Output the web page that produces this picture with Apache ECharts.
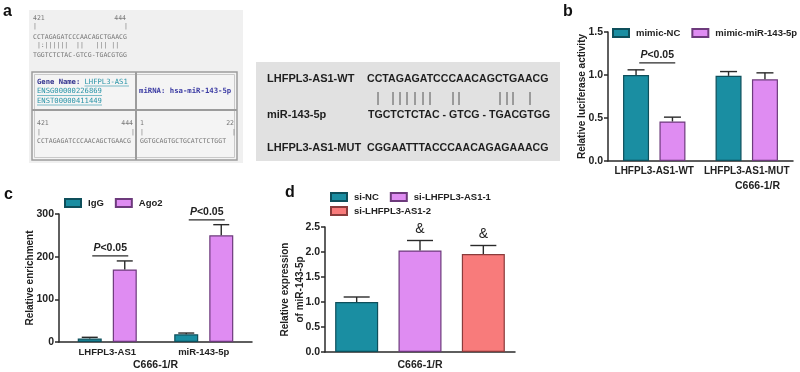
<!DOCTYPE html>
<html>
<head>
<meta charset="utf-8">
<script src="https://cdn.jsdelivr.net/npm/echarts@6/dist/echarts.min.js"></script>
<style>
  html, body { margin: 0; padding: 0; background: #fff; }
  #fig { width: 800px; height: 372px; }
</style>
</head>
<body>
<div id="fig"></div>
<script>
// ---- panel b: luciferase ----
const bCats = ['LHFPL3-AS1-WT', 'LHFPL3-AS1-MUT'];
const bNC = [1.0, 0.99];
const bNCErr = [0.06, 0.05];
const bMiR = [0.46, 0.95];
const bMiRErr = [0.05, 0.075];
const bSig = [[0, 1.14]];

// ---- panel c: RIP ----
const cCats = ['LHFPL3-AS1', 'miR-143-5p'];
const cIgG = [8, 18];
const cIgGErr = [3, 3];
const cAgo2 = [170, 250];
const cAgo2Err = [20, 25];
const cSig = [[0, 202], [1, 286]];

// ---- panel d: qPCR ----
const dCats = ['si-NC', 'si-LHFPL3-AS1-1', 'si-LHFPL3-AS1-2'];
const dVals = [1.0, 2.03, 1.96];
const dErr = [0.10, 0.20, 0.17];
const dMarks = ['', '&', '&'];

// ---- panel a: sequences ----
const wtSeq = 'CCTAGAGATCCCAACAGCTGAACG';
const mirSeq = 'TGCTCTCTAC - GTCG - TGACGTGG';
const mutSeq = 'CGGAATTTACCCAACAGAGAAACG';
const mirFull = 'GGTGCAGTGCTGCATCTCTGGT';
const matchX = [378, 393, 400, 407, 415, 423, 430, 453, 459, 500, 507, 513, 530];

const FONT = '"Liberation Sans", Arial, sans-serif';
const MONO = '"DejaVu Sans Mono", monospace';
const AX = '#2a2a2a';
const TEAL = '#1a8ea2', TEAL_B = '#0e4f5b';
const PINK = '#df8cf2', PINK_B = '#6d3a7c';
const SALMON = '#f87b7b', SALMON_B = '#8a3b3b';

const txt = { fontFamily: FONT, fontWeight: 'bold', fontSize: 10, color: '#222' };

function yAx(grid, max, step, name, gap, dec) {
  return {
    type: 'value', gridIndex: grid, min: 0, max: max, interval: step,
    name: name, nameLocation: 'middle', nameGap: gap, nameMoveOverlap: false,
    nameTextStyle: Object.assign({}, txt, { lineHeight: 15 }),
    axisLine: { show: true, lineStyle: { color: AX, width: 1.5 } },
    axisTick: { show: true, length: 4, lineStyle: { color: AX, width: 1.5 } },
    axisLabel: Object.assign({}, txt, { fontSize: 10.5, margin: 5, formatter: v => v.toFixed(dec) }),
    splitLine: { show: false }
  };
}

function xAx(grid, cats, labelSize, gap, shift) {
  return {
    type: 'category', gridIndex: grid, data: cats,
    name: 'C666-1/R', nameLocation: 'middle', nameGap: gap,
    nameTextStyle: Object.assign({}, txt, { fontSize: 10.5, padding: [0, 0, 0, shift || 0] }),
    axisLine: { lineStyle: { color: AX, width: 1.5 } },
    axisTick: { alignWithLabel: true, length: 4, lineStyle: { color: AX, width: 1.5 } },
    axisLabel: Object.assign({}, txt, { show: labelSize > 0, fontSize: labelSize, interval: 0, margin: 5 })
  };
}

function bar(name, xi, yi, data, fill, border, width, gap, stack) {
  return {
    type: 'bar', name: name, xAxisIndex: xi, yAxisIndex: yi, data: data,
    barWidth: width, barGap: gap, stack: stack,
    itemStyle: { color: fill, borderColor: border, borderWidth: 1.2 },
    z: 2
  };
}

// error bar drawn upward from the bar top, shifted to the bar's slot
function errBars(xi, yi, vals, errs, dx, capW, marks) {
  return {
    type: 'custom', xAxisIndex: xi, yAxisIndex: yi, silent: true, z: 3,
    data: vals.map((v, i) => [i, v, v + errs[i]]),
    renderItem(params, api) {
      const b = api.coord([api.value(0), api.value(1)]);
      const t = api.coord([api.value(0), api.value(2)]);
      const x = b[0] + dx;
      const kids = [
        { type: 'line', shape: { x1: x, y1: b[1], x2: x, y2: t[1] }, style: { stroke: AX, lineWidth: 1.4 } },
        { type: 'line', shape: { x1: x - capW / 2, y1: t[1], x2: x + capW / 2, y2: t[1] }, style: { stroke: AX, lineWidth: 1.4 } }
      ];
      const m = marks ? marks[params.dataIndex] : '';
      if (m) {
        kids.push({ type: 'text', style: { text: m, x: x, y: t[1] - 4, align: 'center', verticalAlign: 'bottom',
          fontFamily: FONT, fontSize: 14, fill: '#222' } });
      }
      return { type: 'group', children: kids };
    }
  };
}

function sigLines(xi, yi, marks) {
  return {
    type: 'custom', xAxisIndex: xi, yAxisIndex: yi, silent: true, z: 4,
    data: marks,
    renderItem(params, api) {
      const p = api.coord([api.value(0), api.value(1)]);
      return { type: 'group', children: [
        { type: 'line', shape: { x1: p[0] - 15, y1: p[1], x2: p[0] + 21, y2: p[1] }, style: { stroke: AX, lineWidth: 1.3 } },
        { type: 'text', style: {
          text: '{i|P}<0.05', x: p[0] + 3, y: p[1] - 2, align: 'center', verticalAlign: 'bottom',
          fontFamily: FONT, fontWeight: 'bold', fontSize: 10.5, fill: '#222',
          rich: { i: { fontFamily: FONT, fontWeight: 'bold', fontStyle: 'italic', fontSize: 10.5, fill: '#222' } }
        } }
      ] };
    }
  };
}

function legendOf(names, left, top) {
  return {
    data: names, left: left, top: top, width: 200, itemWidth: 16, itemHeight: 8, itemGap: 11, padding: 0,
    icon: 'rect', selectedMode: false,
    textStyle: Object.assign({}, txt, { fontSize: 9.5, padding: [0, 0, 0, 2] })
  };
}

// ---- panel a drawing (static picture parts) ----
const g = [];
function T(text, x, y, opt) {
  g.push({ type: 'text', x: x, y: y, silent: true,
    style: Object.assign({ text: text, fill: '#777', font: '6.5px ' + MONO, verticalAlign: 'middle' }, opt || {}) });
}
function L(x1, y1, x2, y2, stroke, w) {
  g.push({ type: 'line', silent: true, shape: { x1, y1, x2, y2 }, style: { stroke: stroke, lineWidth: w || 1 } });
}
function R(x, y, w, h, fill, stroke, lw) {
  g.push({ type: 'rect', silent: true, shape: { x, y, width: w, height: h }, style: { fill: fill, stroke: stroke || null, lineWidth: lw || 0 } });
}

// panel letters
[['a', 3, 12], ['b', 563, 12], ['c', 4, 195], ['d', 285, 193]].forEach(p =>
  g.push({ type: 'text', x: p[1], y: p[2], style: { text: p[0], font: 'bold 16px ' + FONT, fill: '#111', verticalAlign: 'middle' } }));

// database screenshot
R(29, 10, 214, 153, '#f0f0f0');
T('421', 33, 18.5); T('444', 126, 18.5, { align: 'right' });
T('|', 33, 26.5); T('|', 124, 26.5);
T(wtSeq, 33, 37.5);
T(' |:||||||  ||   ||| ||', 33, 45);
T('TGGTCTCTAC-GTCG-TGACGTGG', 33, 55);
R(32, 72, 205, 88, '#f4f4f4', '#9c9c9c', 1.5);
R(34.5, 74.5, 200, 83, null, '#c9c9c9', 1);
L(136, 72, 136, 160, '#9c9c9c', 2);
L(32, 110, 237, 110, '#9c9c9c', 2);
T('Gene Name: ', 37, 82, { font: 'bold 7.2px ' + MONO, fill: '#33338f' });
T('LHFPL3-AS1', 84.5, 82, { font: '7.2px ' + MONO, fill: '#2a95a8' });
T('ENSG00000226869', 37, 91.5, { font: '7.2px ' + MONO, fill: '#2a95a8' });
T('ENST00000411449', 37, 101, { font: '7.2px ' + MONO, fill: '#2a95a8' });
L(84.5, 86, 129, 86, '#2a95a8', 0.6);
L(37, 95.5, 102, 95.5, '#2a95a8', 0.6);
L(37, 105, 102, 105, '#2a95a8', 0.6);
T('miRNA: hsa-miR-143-5p', 139, 91.5, { font: 'bold 7.3px ' + MONO, fill: '#3b3ba3' });
T('421', 37, 123); T('444', 133, 123, { align: 'right' });
T('|', 37, 132); T('|', 131, 132);
T(wtSeq, 37, 141);
T('1', 140, 123); T('22', 234, 123, { align: 'right' });
T('|', 140, 132); T('|', 232, 132);
T(mirFull, 140, 141);

// alignment box
R(256, 62, 304, 99, '#e1e1e1');
const seqStyle = { font: 'bold 10.6px ' + FONT, fill: '#1e1e1e' };
T('LHFPL3-AS1-WT', 267, 79, { font: 'bold 11px ' + FONT, fill: '#1e1e1e' });
T('miR-143-5p', 267, 115, { font: 'bold 11px ' + FONT, fill: '#1e1e1e' });
T('LHFPL3-AS1-MUT', 267, 148, { font: 'bold 11px ' + FONT, fill: '#1e1e1e' });
T(wtSeq, 367, 79, seqStyle);
T(mirSeq, 368, 115, seqStyle);
T(mutSeq, 367, 148, seqStyle);
matchX.forEach(x => L(x, 92, x, 105, '#555', 1));

const chart = echarts.init(document.getElementById('fig'), null, { renderer: 'canvas' });
chart.setOption({
  backgroundColor: '#fff',
  animation: false,
  grid: [
    { left: 608, top: 32, width: 185, height: 129 },
    { left: 59, top: 214, width: 193, height: 128 },
    { left: 325, top: 227, width: 190, height: 127 }
  ],
  xAxis: [
    xAx(0, bCats, 10, 20, 114),
    xAx(1, cCats, 9.5, 18),
    xAx(2, dCats, 0, 8)
  ],
  yAxis: [
    yAx(0, 1.5, 0.5, 'Relative luciferase activity', 18, 1),
    yAx(1, 300, 100, 'Relative enrichment', 21, 0),
    yAx(2, 2.5, 0.5, 'Relative expression\nof miR-143-5p', 17, 1)
  ],
  legend: [
    legendOf(['mimic-NC', 'mimic-miR-143-5p'], 612, 28),
    legendOf(['IgG', 'Ago2'], 64, 198),
    legendOf(['si-NC', 'si-LHFPL3-AS1-1'], 330, 192),
    legendOf(['si-LHFPL3-AS1-2'], 330, 206)
  ],
  series: [
    bar('mimic-NC', 0, 0, bNC, TEAL, TEAL_B, 26, '40%'),
    bar('mimic-miR-143-5p', 0, 0, bMiR, PINK, PINK_B, 26, '40%'),
    errBars(0, 0, bNC, bNCErr, -18.2, 17),
    errBars(0, 0, bMiR, bMiRErr, 18.2, 17),
    sigLines(0, 0, bSig),

    bar('IgG', 1, 1, cIgG, TEAL, TEAL_B, 24, '46%'),
    bar('Ago2', 1, 1, cAgo2, PINK, PINK_B, 24, '46%'),
    errBars(1, 1, cIgG, cIgGErr, -17.5, 16),
    errBars(1, 1, cAgo2, cAgo2Err, 17.5, 16),
    sigLines(1, 1, cSig),

    bar('si-NC', 2, 2, dVals.map((v, i) => i === 0 ? v : '-'), TEAL, TEAL_B, 43, '0%', 'd'),
    bar('si-LHFPL3-AS1-1', 2, 2, dVals.map((v, i) => i === 1 ? v : '-'), PINK, PINK_B, 43, '0%', 'd'),
    bar('si-LHFPL3-AS1-2', 2, 2, dVals.map((v, i) => i === 2 ? v : '-'), SALMON, SALMON_B, 43, '0%', 'd'),
    errBars(2, 2, dVals, dErr, 0, 26, dMarks)
  ],
  graphic: g
});
</script>
</body>
</html>
